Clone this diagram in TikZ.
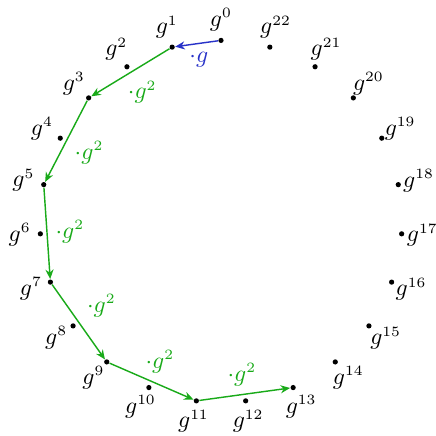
\documentclass[tikz,border=0pt]{standalone}
\usepackage{tikz}
\usetikzlibrary{arrows.meta}
\DeclareMathSizes{10}{10}{6}{5}

\definecolor{stepgreen}{RGB}{25,170,25}
\definecolor{stepblue}{RGB}{40,50,200}

\begin{document}
\begin{tikzpicture}[
    dot/.style={circle, fill=black, inner sep=0pt, minimum size=2.2pt},
    onestep/.style={->, draw=stepblue, line width=0.6pt},
    twostep/.style={->, draw=stepgreen, line width=0.6pt},
    steplabel/.style={midway, inner sep=3.3pt},
    label distance=0.26cm,
    >={Stealth[length=4pt, width=3.4pt]}
]
\useasboundingbox (-3.271,-3.175) rectangle (3.182,3.278);

% the 23 powers of g on a circle
\foreach \k in {0,...,22} {
  \pgfmathsetmacro{\ang}{90+\k*360/23}
  \node[dot, label={[anchor=center]\ang:$g^{\k}$}] (g\k) at (\ang:2.68) {};
}

\draw[onestep] (g0) -- node[steplabel, anchor=98, text=stepblue] {$\cdot g$} (g1);
\draw[twostep] (g1) -- node[steplabel, anchor=121, text=stepgreen] {$\cdot g^2$} (g3);
\draw[twostep] (g3) -- node[steplabel, anchor=153, text=stepgreen] {$\cdot g^2$} (g5);
\draw[twostep] (g5) -- node[steplabel, anchor=184, text=stepgreen] {$\cdot g^2$} (g7);
\draw[twostep] (g7) -- node[steplabel, anchor=215, text=stepgreen] {$\cdot g^2$} (g9);
\draw[twostep] (g9) -- node[steplabel, anchor=247, text=stepgreen] {$\cdot g^2$} (g11);
\draw[twostep] (g11) -- node[steplabel, anchor=278, text=stepgreen] {$\cdot g^2$} (g13);

\end{tikzpicture}
\end{document}
